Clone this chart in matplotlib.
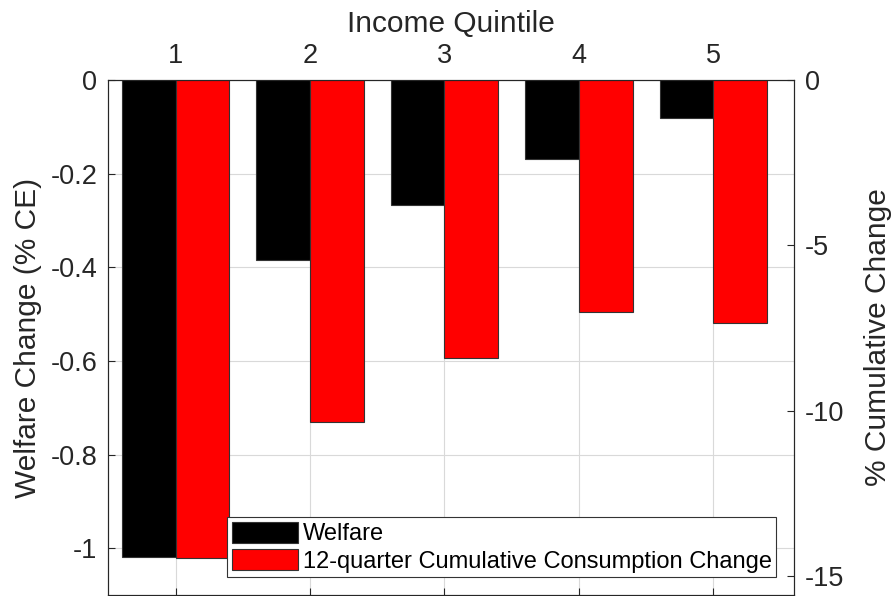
import numpy as np
import matplotlib.pyplot as plt
from matplotlib.ticker import FormatStrFormatter

plt.rcParams['font.family'] = ['Liberation Sans', 'DejaVu Sans']
plt.rcParams['axes.unicode_minus'] = False

quintiles = [1, 2, 3, 4, 5]
welfare = [-1.019, -0.384, -0.267, -0.168, -0.082]
cons_change = [-14.45, -10.33, -8.40, -7.01, -7.36]

left_ticks = [-1, -0.8, -0.6, -0.4, -0.2, 0]
right_ticks = [-15, -10, -5, 0]

txt = '#262626'
W = 892
H = 596

fig = plt.figure(figsize=(W / 100, H / 100), dpi=100)
ax = fig.add_axes([108.3 / W, 1 - 595 / H, 685.7 / W, 515 / H])
ax2 = ax.twinx()

x = np.array(quintiles)
b1 = ax.bar(x - 0.2, welfare, width=0.4, color='black', edgecolor='#333333', linewidth=0.8, zorder=2)
b2 = ax2.bar(x + 0.2, cons_change, width=0.4, color='#ff0000', edgecolor='#333333', linewidth=0.8, zorder=2)

ax.set_xlim(0.5, 5.6)
ax.set_ylim(-1.1, 0)
ax2.set_ylim(-15.57, 0)

ax.set_xticks(quintiles)
ax.set_yticks(left_ticks)
ax.yaxis.set_major_formatter(FormatStrFormatter('%g'))
ax2.set_yticks(right_ticks)

ax.tick_params(axis='x', top=True, bottom=True, labeltop=True, labelbottom=False,
               direction='in', length=5, width=0.8, colors=txt, labelsize=19.5, pad=8)
ax.tick_params(axis='y', left=True, right=False, direction='in', length=5, width=0.8,
               colors=txt, labelsize=19.5, pad=8)
ax2.tick_params(axis='y', right=True, direction='in', length=5, width=0.8,
                colors=txt, labelsize=19.5, pad=8)
ax2.tick_params(axis='x', top=False, bottom=False, labeltop=False, labelbottom=False)

ax.xaxis.set_label_position('top')
ax.set_xlabel('Income Quintile', fontsize=21.5, color=txt, labelpad=8)
ax.set_ylabel('Welfare Change (% CE)', fontsize=21.5, color=txt, labelpad=6)
ax2.set_ylabel('% Cumulative Change', fontsize=21.5, color=txt, labelpad=14)

ax.grid(True, color='#d9d9d9', linewidth=0.8, zorder=0)
ax.set_axisbelow(True)

for a in (ax, ax2):
    for s in a.spines.values():
        s.set_color(txt)
        s.set_linewidth(0.8)

leg = ax2.legend([b1, b2], ['Welfare', '12-quarter Cumulative Consumption Change'],
                 loc='lower left', bbox_to_anchor=(0.1735, 0.0344, 0.8005, 0.1286),
                 mode='expand', fontsize=17, frameon=True, fancybox=False,
                 edgecolor='#333333', framealpha=1, borderpad=0.2, labelspacing=0.15,
                 handlelength=2.8, handleheight=1.0, handletextpad=0.2,
                 borderaxespad=0)
leg.get_frame().set_linewidth(0.8)

fig.savefig('out.png', dpi=100)
